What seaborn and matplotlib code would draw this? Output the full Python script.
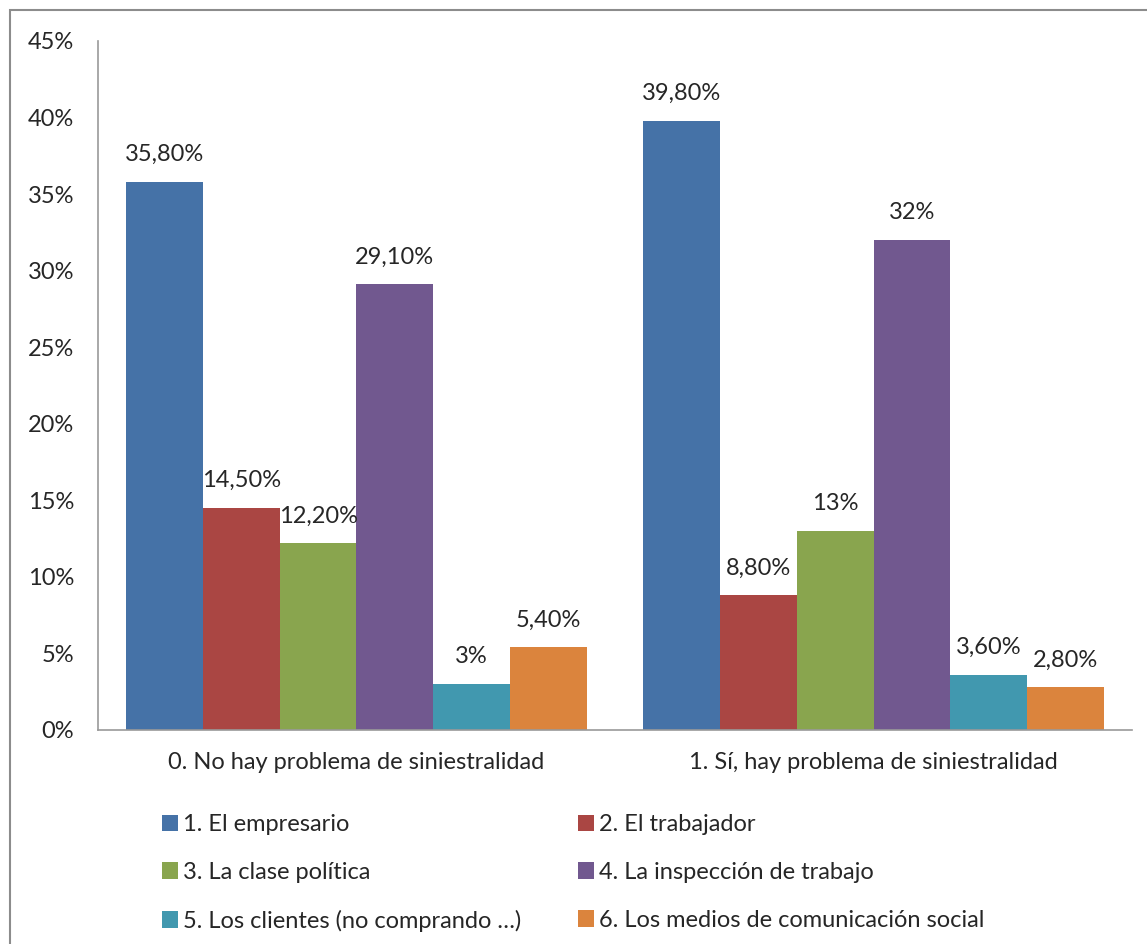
import pandas as pd
import matplotlib.pyplot as plt
import seaborn as sns
from matplotlib.patches import Rectangle

# Data
groups = ['0. No hay problema de siniestralidad', '1. Sí, hay problema de siniestralidad']
actors = ['1. El empresario', '2. El trabajador', '3. La clase política',
          '4. La inspección de trabajo', '5. Los clientes (no comprando …)',
          '6. Los medios de comunicación social']
no_problema = [35.8, 14.5, 12.2, 29.1, 3.0, 5.4]
si_problema = [39.8, 8.8, 13.0, 32.0, 3.6, 2.8]
colors = ['#4572A7', '#AA4643', '#89A54E', '#71588F', '#4198AF', '#DB843D']

rows = []
for a, v0, v1 in zip(actors, no_problema, si_problema):
    rows.append({'grupo': groups[0], 'actor': a, 'valor': v0})
    rows.append({'grupo': groups[1], 'actor': a, 'valor': v1})
df = pd.DataFrame(rows)

sns.set_style('white')
plt.rcParams['font.family'] = ['Lato', 'DejaVu Sans']
fs = 17

fig = plt.figure(figsize=(11.47, 9.44), dpi=100)
ax = fig.add_axes([0.0854, 0.2267, 0.9016, 0.7299])

sns.barplot(data=df, x='grupo', y='valor', hue='actor', order=groups,
            hue_order=actors, palette=colors, width=0.89, saturation=1,
            edgecolor='none', ax=ax)


def fmt(v):
    if float(v).is_integer():
        return f'{int(v)}%'
    return f'{v:.2f}%'.replace('.', ',')


for cont in ax.containers:
    ax.bar_label(cont, labels=[fmt(b.get_height()) for b in cont],
                 padding=12, fontsize=fs)

ax.set_ylim(0, 45)
ax.set_yticks(range(0, 46, 5))
ax.set_yticklabels([f'{t}%' for t in range(0, 46, 5)], fontsize=fs)
ax.set_xlim(-0.5, 1.5)
ax.tick_params(axis='x', labelsize=fs, length=0, pad=16)
ax.tick_params(axis='y', length=0, pad=17)
ax.set_xlabel('')
ax.set_ylabel('')
for s in ['top', 'right']:
    ax.spines[s].set_visible(False)
for s in ['left', 'bottom']:
    ax.spines[s].set_color('#999999')
    ax.spines[s].set_linewidth(1.2)

handles, labels = ax.get_legend_handles_labels()
ax.legend_.remove()
# legend fills column-wise, reorder so rows read 1-2, 3-4, 5-6
order = [0, 2, 4, 1, 3, 5]
fig.legend([handles[i] for i in order], [labels[i] for i in order],
           loc='upper left', bbox_to_anchor=(0.1225, 0.16),
           ncol=2, frameon=False, fontsize=fs, handlelength=0.7,
           handleheight=0.7, handletextpad=0.2, columnspacing=2.4,
           labelspacing=1.13)

# outer chart border
fig.patches.append(Rectangle((10 / 1147, -0.05), 1.2, 1 - 10 / 944 + 0.05,
                             transform=fig.transFigure, fill=False,
                             edgecolor='#8c8c8c', linewidth=1.5))

fig.savefig('out.png', dpi=100)
